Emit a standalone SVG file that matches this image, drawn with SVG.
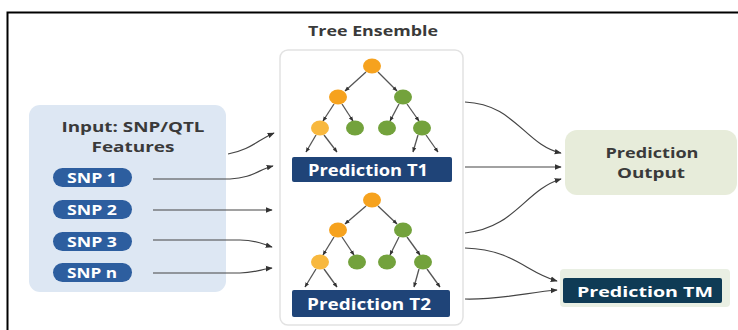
<svg xmlns="http://www.w3.org/2000/svg" width="738" height="330" viewBox="0 0 738 330">
<defs>
<marker id="ah" viewBox="0 0 10 10" refX="9" refY="5" markerWidth="7" markerHeight="7" orient="auto" markerUnits="userSpaceOnUse"><path d="M0,1 L10,5 L0,9 z" fill="#333"/></marker>
<marker id="ahs" viewBox="0 0 10 10" refX="9" refY="5" markerWidth="5" markerHeight="5" orient="auto" markerUnits="userSpaceOnUse"><path d="M0,1 L10,5 L0,9 z" fill="#333"/></marker>
</defs>
<style>
text{font-family:"Open Sans","DejaVu Sans",sans-serif;font-weight:700;text-anchor:middle;dominant-baseline:central}
.dark{fill:#3a3a3a;font-size:15px}
.w{fill:#fff}
.pill{fill:#2d5e9f}
.conn path{fill:none;stroke:#444;stroke-width:1.2;marker-end:url(#ah)}
.edge{stroke:#555;stroke-width:1.3;marker-end:url(#ahs)}
.o{fill:#f6a21e}
.lo{fill:#f8b83e}
.g{fill:#73a23c}
.pb{fill:#1f4478}
</style>
<rect width="738" height="330" fill="#fff"/>
<path d="M7.5,340 V12.5 H745" fill="none" stroke="#000" stroke-width="2"/>

<g id="input">
<rect x="29" y="105" width="197" height="187" rx="11" fill="#dde7f3"/>
<text class="dark" x="133" y="126" font-size="14" textLength="143" lengthAdjust="spacingAndGlyphs">Input: SNP/QTL</text>
<text class="dark" x="133" y="146" font-size="14" textLength="83" lengthAdjust="spacingAndGlyphs">Features</text>
</g>
<g id="snp1"><rect class="pill" x="53" y="168" width="79" height="19" rx="9.5"/><text class="w" x="92" y="177.5" font-size="14" textLength="50" lengthAdjust="spacingAndGlyphs">SNP 1</text></g>
<g id="snp2"><rect class="pill" x="53" y="200" width="79" height="19" rx="9.5"/><text class="w" x="92" y="209.5" font-size="14" textLength="50" lengthAdjust="spacingAndGlyphs">SNP 2</text></g>
<g id="snp3"><rect class="pill" x="53" y="232" width="79" height="19" rx="9.5"/><text class="w" x="92" y="241.5" font-size="14" textLength="50" lengthAdjust="spacingAndGlyphs">SNP 3</text></g>
<g id="snpn"><rect class="pill" x="53" y="263" width="79" height="19" rx="9.5"/><text class="w" x="92" y="272.5" font-size="14" textLength="50" lengthAdjust="spacingAndGlyphs">SNP n</text></g>

<g id="ensemble">
<text class="dark" x="373" y="30" font-size="14" textLength="130" lengthAdjust="spacingAndGlyphs">Tree Ensemble</text>
<rect x="280" y="50" width="183" height="275" rx="8" fill="#fff" stroke="#e2e2e2" stroke-width="1.5"/>
</g>

<g id="tree1">
<line class="edge" x1="366" y1="72" x2="345" y2="91"/>
<line class="edge" x1="378" y1="72" x2="397" y2="91"/>
<line class="edge" x1="334" y1="104" x2="323" y2="121"/>
<line class="edge" x1="342" y1="104" x2="353" y2="121"/>
<line class="edge" x1="399" y1="104" x2="390" y2="121"/>
<line class="edge" x1="407" y1="104" x2="419" y2="121"/>
<line class="edge" x1="316" y1="135" x2="306" y2="152"/>
<line class="edge" x1="324" y1="135" x2="337" y2="152"/>
<line class="edge" x1="418" y1="135" x2="413" y2="152"/>
<line class="edge" x1="426" y1="135" x2="438" y2="152"/>
<ellipse class="o" cx="372" cy="66" rx="9" ry="7.5"/>
<ellipse class="o" cx="338" cy="97" rx="9" ry="7.5"/>
<ellipse class="g" cx="403" cy="97" rx="9" ry="7.5"/>
<ellipse class="lo" cx="320" cy="128" rx="9" ry="7.5"/>
<ellipse class="g" cx="355" cy="128" rx="9" ry="7.5"/>
<ellipse class="g" cx="387" cy="128" rx="9" ry="7.5"/>
<ellipse class="g" cx="422" cy="128" rx="9" ry="7.5"/>
<rect class="pb" x="292" y="157" width="160" height="25" rx="2"/>
<text class="w" x="368" y="169.5" font-size="16" textLength="120" lengthAdjust="spacingAndGlyphs">Prediction T1</text>
</g>

<g id="tree2">
<line class="edge" x1="366" y1="206" x2="345" y2="224"/>
<line class="edge" x1="378" y1="206" x2="397" y2="224"/>
<line class="edge" x1="334" y1="237" x2="323" y2="255"/>
<line class="edge" x1="342" y1="237" x2="354" y2="255"/>
<line class="edge" x1="399" y1="237" x2="390" y2="255"/>
<line class="edge" x1="407" y1="237" x2="420" y2="255"/>
<line class="edge" x1="316" y1="269" x2="305" y2="287"/>
<line class="edge" x1="324" y1="269" x2="337" y2="287"/>
<line class="edge" x1="419" y1="269" x2="414" y2="287"/>
<line class="edge" x1="427" y1="269" x2="440" y2="287"/>
<ellipse class="o" cx="372" cy="200" rx="9" ry="7.5"/>
<ellipse class="o" cx="338" cy="230" rx="9" ry="7.5"/>
<ellipse class="g" cx="403" cy="230" rx="9" ry="7.5"/>
<ellipse class="lo" cx="320" cy="262" rx="9" ry="7.5"/>
<ellipse class="g" cx="357" cy="262" rx="9" ry="7.5"/>
<ellipse class="g" cx="387" cy="262" rx="9" ry="7.5"/>
<ellipse class="g" cx="423" cy="262" rx="9" ry="7.5"/>
<rect class="pb" x="292" y="290" width="158" height="27" rx="2"/>
<text class="w" x="369" y="303.5" font-size="16" textLength="124" lengthAdjust="spacingAndGlyphs">Prediction T2</text>
</g>

<g id="output">
<rect x="565" y="130" width="172" height="65" rx="12" fill="#e7ecda"/>
<text class="dark" x="652" y="152" font-size="14" textLength="93" lengthAdjust="spacingAndGlyphs">Prediction</text>
<text class="dark" x="651" y="172" font-size="14" textLength="68" lengthAdjust="spacingAndGlyphs">Output</text>
</g>

<g id="predtm">
<rect x="560" y="269" width="170" height="38" rx="4" fill="#e9efe3"/>
<rect x="563" y="278" width="159" height="25" rx="2" fill="#0f3b55"/>
<text class="w" x="645" y="290.5" font-size="15" textLength="136" lengthAdjust="spacingAndGlyphs">Prediction TM</text>
</g>

<g id="connectors" class="conn">
<path d="M228,154 C250,150 258,140 274,133"/>
<path d="M153,179 H230 C252,178 258,170 273,166"/>
<path d="M153,210 H272"/>
<path d="M153,240 H240 C258,240 262,244 272,247"/>
<path d="M153,273 H240 C255,273 262,269 272,268"/>
<path d="M465,102 C515,104 525,145 561,153"/>
<path d="M465,167 H561"/>
<path d="M465,233 C515,228 525,190 561,179"/>
<path d="M465,248 C515,250 525,272 557,281"/>
<path d="M465,299 C500,300 530,292 557,290"/>
</g>
</svg>
